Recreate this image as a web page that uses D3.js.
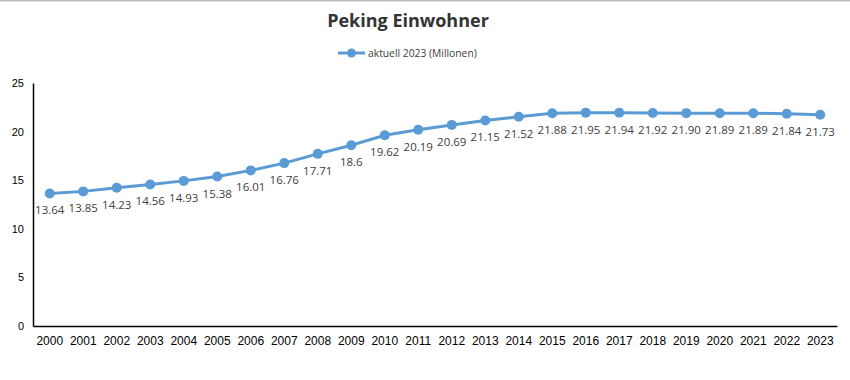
<!DOCTYPE html>
<html>
<head>
<meta charset="utf-8">
<script src="https://cdn.jsdelivr.net/npm/d3@7"></script>
<style>
  body { margin: 0; background: #fff; }
  svg { display: block; }
</style>
</head>
<body>
<div class="chart"></div>
<script>
// data
var years = ["2000","2001","2002","2003","2004","2005","2006","2007","2008","2009","2010","2011",
             "2012","2013","2014","2015","2016","2017","2018","2019","2020","2021","2022","2023"];
var population = [13.64,13.85,14.23,14.56,14.93,15.38,16.01,16.76,17.71,18.6,19.62,20.19,
                  20.69,21.15,21.52,21.88,21.95,21.94,21.92,21.90,21.89,21.89,21.84,21.73];
var valueLabels = ["13.64","13.85","14.23","14.56","14.93","15.38","16.01","16.76","17.71","18.6","19.62","20.19",
                   "20.69","21.15","21.52","21.88","21.95","21.94","21.92","21.90","21.89","21.89","21.84","21.73"];
var yTicks = [0, 5, 10, 15, 20, 25];
var seriesName = "aktuell 2023 (Millonen)";

var blue = "#5b9bd5";

var svg = d3.select(".chart").append("svg").attr("width", 850).attr("height", 380),
    margin = {top: 83, right: 13, bottom: 54, left: 33},
    width  = +svg.attr("width") - margin.left - margin.right,
    height = +svg.attr("height") - margin.top - margin.bottom,
    x = d3.scaleBand().domain(years).range([0, width]),
    y = d3.scaleLinear().domain([0, 25]).range([height, 0]),
    g = svg.append("g").attr("transform", `translate(${margin.left},${margin.top})`);

// thin grey frame line on top
svg.append("line")
    .attr("x1", 0).attr("x2", 850).attr("y1", 0.5).attr("y2", 0.5)
    .attr("stroke", "#bbbbbb").attr("stroke-width", 2);

// title
svg.append("text")
    .attr("x", 408).attr("y", 27)
    .attr("text-anchor", "middle")
    .style("font-family", "'Open Sans', 'Noto Sans', sans-serif")
    .style("font-size", "18px")
    .style("font-weight", "bold")
    .style("fill", "#333")
    .text("Peking Einwohner");

// legend
var leg = svg.append("g").attr("transform", "translate(338,53)");
leg.append("line").attr("x1", 0).attr("x2", 27).attr("stroke", blue).attr("stroke-width", 3);
leg.append("circle").attr("cx", 13.5).attr("r", 4.5).attr("fill", blue);
leg.append("text")
    .attr("x", 30).attr("y", 4)
    .style("font-family", "'Open Sans', 'Noto Sans', sans-serif")
    .style("font-size", "10.3px")
    .style("fill", "#404040")
    .text(seriesName);

// axes
var xAxis = g.append("g")
    .attr("transform", `translate(0,${height})`)
    .call(d3.axisBottom(x).tickSize(0).tickPadding(10));
xAxis.select(".domain").attr("stroke", "#000").attr("stroke-width", 1.5);
xAxis.selectAll("text")
    .style("font-family", "Arial, 'Liberation Sans', sans-serif")
    .style("font-size", "12px")
    .style("fill", "#000");

var yAxis = g.append("g")
    .call(d3.axisLeft(y).tickValues(yTicks).tickSize(0).tickPadding(9));
yAxis.select(".domain").attr("stroke", "#000").attr("stroke-width", 1.5);
yAxis.selectAll("text")
    .style("font-family", "Arial, 'Liberation Sans', sans-serif")
    .style("font-size", "11px")
    .style("fill", "#000");

var cx = function(d, i) { return x(years[i]) + x.bandwidth() / 2; };

// line
var line = d3.line()
    .x(function(d, i) { return cx(d, i); })
    .y(function(d) { return y(d); });

g.append("path")
    .datum(population)
    .attr("fill", "none")
    .attr("stroke", blue)
    .attr("stroke-width", 3)
    .attr("d", line);

g.selectAll(".dot")
    .data(population)
  .enter().append("circle")
    .attr("class", "dot")
    .attr("cx", cx)
    .attr("cy", function(d) { return y(d); })
    .attr("r", 5)
    .attr("fill", blue);

// value labels below the points
g.selectAll(".lbl")
    .data(population)
  .enter().append("text")
    .attr("class", "lbl")
    .attr("x", cx)
    .attr("y", function(d) { return y(d) + 21; })
    .attr("text-anchor", "middle")
    .style("font-family", "'Open Sans', 'Noto Sans', sans-serif")
    .style("font-size", "11.5px")
    .style("fill", "#404040")
    .text(function(d, i) { return valueLabels[i]; });
</script>
</body>
</html>
